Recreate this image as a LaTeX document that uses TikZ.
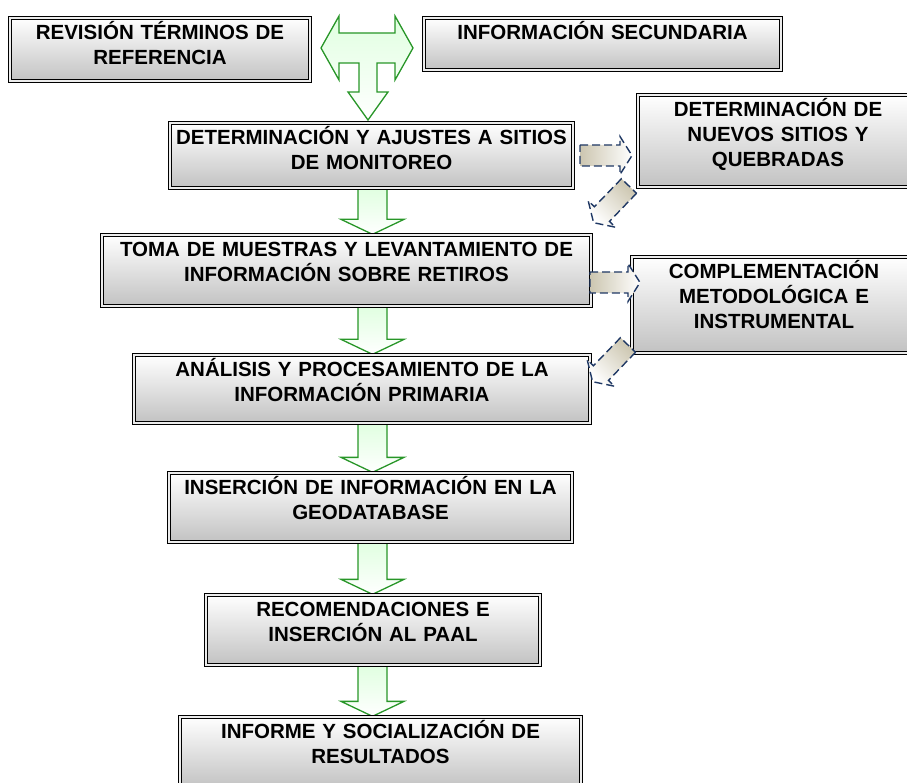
\documentclass[tikz,border=0pt]{standalone}
\usepackage{fontspec}
\setsansfont{Liberation Sans}
\usetikzlibrary{calc}
\definecolor{verdeflecha}{RGB}{40,150,40}
\definecolor{azulflecha}{RGB}{31,56,100}
\definecolor{arena}{RGB}{204,198,176}
\pgfdeclarelayer{fondo}
\pgfsetlayers{fondo,main}
\tikzset{
	caja/.style={draw=black, line width=0.9pt, double=gray!15, double distance=1.8pt, inner sep=0pt,
		top color=white, middle color=white, bottom color=black!24},
	texto/.style={anchor=base, align=center, text width=#1, inner sep=0pt,
		font=\sffamily\bfseries\fontsize{20.5}{25}\selectfont},
	verde/.style={draw=verdeflecha, line width=1.3pt, top color=green!12, bottom color=white},
	punteada/.style={draw=azulflecha, line width=1.4pt, dash pattern=on 8pt off 4pt}
}
\def\flechaverde(#1)(#2){\begin{pgfonlayer}{fondo}
	\path (eje |- #1.south) coordinate (fa) (eje |- #2.north) coordinate (fb);
	\draw[verde] ($(fa)+(-14.5,0)$) -- ($(fb)+(-14.5,-15)$) -- ($(fb)+(-31.5,-15)$) -- (fb)
		-- ($(fb)+(31.5,-15)$) -- ($(fb)+(14.5,-15)$) -- ($(fa)+(14.5,0)$) -- cycle;
	\end{pgfonlayer}}
\def\flechagris[#1](#2)(#3:#4){\begin{scope}[shift={(#2)}, rotate=#3]
	\draw[punteada, #1] (0,-10.5) -- (#4,-10.5) -- (#4,-19) -- ({#4+12},0) -- (#4,19) -- (#4,10.5) -- (0,10.5) -- cycle;
	\end{scope}}

\begin{document}
\begin{tikzpicture}[x=1pt, y=-1pt]
	%%%%% START %%%%%
	\useasboundingbox (0,0) rectangle (907,783);
	\clip (0,0) rectangle (907,783);
	\coordinate (eje) at (372.5,0);
	
	\node[caja, minimum width=300.4pt, minimum height=63.4pt] (b1) at (160,49.5) {};
	\node[texto=296pt, yshift=-22.5pt] (t1) at (b1.north) {REVISIÓN TÉRMINOS DE\\REFERENCIA};
	\node[caja, minimum width=357.4pt, minimum height=52.4pt] (b2) at (602.5,44) {};
	\node[texto=350pt, yshift=-22.5pt] (t2) at (b2.north) {INFORMACIÓN SECUNDARIA};
	
	\node[caja, minimum width=403.4pt, minimum height=65.4pt] (b3) at (371.5,155.5) {};
	\node[texto=398pt, yshift=-22.5pt] (t3) at (b3.north) {DETERMINACIÓN Y AJUSTES A SITIOS\\DE MONITOREO};
	\node[caja, minimum width=280.4pt, minimum height=92.4pt] (b9) at (778,141) {};
	\node[texto=276pt, yshift=-22.5pt] (t9) at (b9.north) {DETERMINACIÓN DE\\NUEVOS SITIOS Y\\QUEBRADAS};
	
	\node[caja, minimum width=489.4pt, minimum height=71.4pt] (b4) at (346.5,270.5) {};
	\node[texto=484pt, yshift=-22.5pt] (t4) at (b4.north) {TOMA DE MUESTRAS Y LEVANTAMIENTO DE\\INFORMACIÓN SOBRE RETIROS};
	\node[caja, minimum width=284.4pt, minimum height=96.4pt] (b10) at (774,305) {};
	\node[texto=280pt, yshift=-22.5pt] (t10) at (b10.north) {COMPLEMENTACIÓN\\METODOLÓGICA E\\INSTRUMENTAL};
	
	\node[caja, minimum width=456.4pt, minimum height=68.4pt] (b5) at (362,389) {};
	\node[texto=450pt, yshift=-22.5pt] (t5) at (b5.north) {ANÁLISIS Y PROCESAMIENTO DE LA\\INFORMACIÓN PRIMARIA};
	\node[caja, minimum width=403.4pt, minimum height=69.4pt] (b6) at (370.5,507.5) {};
	\node[texto=398pt, yshift=-22.5pt] (t6) at (b6.north) {INSERCIÓN DE INFORMACIÓN EN LA\\GEODATABASE};
	\node[caja, minimum width=334.4pt, minimum height=70.4pt] (b7) at (373,630) {};
	\node[texto=330pt, yshift=-22.5pt] (t7) at (b7.north) {RECOMENDACIONES E\\INSERCIÓN AL PAAL};
	\node[caja, minimum width=401.4pt, minimum height=71.4pt] (b8) at (380.5,752.5) {};
	\node[texto=396pt, yshift=-22.5pt] (t8) at (b8.north) {INFORME Y SOCIALIZACIÓN DE\\RESULTADOS};
	
	% flecha en T
	\begin{pgfonlayer}{fondo}
		\draw[verde] (321,48) -- (339,16) -- (339,33) -- (395,33) -- (395,16) -- (413,48) -- (395,80)
			-- (395,63) -- (377,63) -- (377,92) -- (388,92) -- (368,120) -- (348,92) -- (359,92)
			-- (359,63) -- (339,63) -- (339,80) -- cycle;
	\end{pgfonlayer}
	
	\flechaverde(b3)(b4)
	\flechaverde(b4)(b5)
	\flechaverde(b5)(b6)
	\flechaverde(b6)(b7)
	\flechaverde(b7)(b8)
	
	\flechagris[left color=arena, right color=white](580,155.5)(0:40)
	\flechagris[top color=arena, bottom color=white, shading angle=-45](629,186)(-134:39)
	\flechagris[left color=arena, right color=white](590,282.5)(0:38)
	\flechagris[top color=arena, bottom color=white, shading angle=-45](628,345)(-134:39)
	
	%%%%% END %%%%%
\end{tikzpicture}
\end{document}
